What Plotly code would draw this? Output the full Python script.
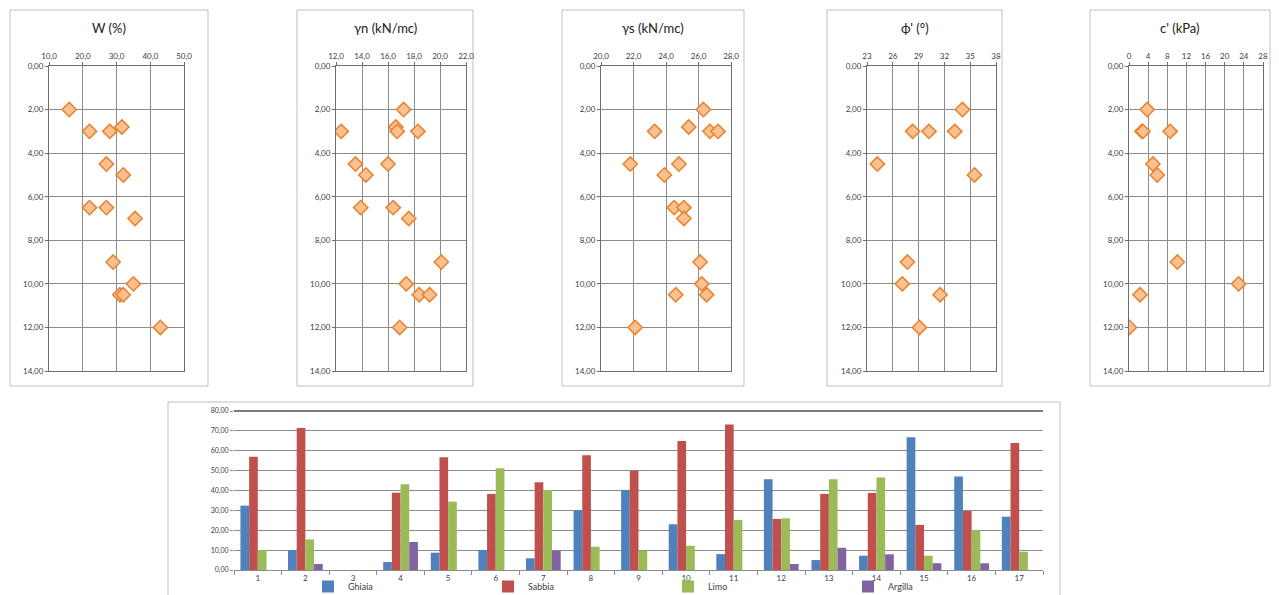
import plotly.graph_objects as go

# The page body adds an 8 px offset, so the figure is sized to fill the rest of the window.
OFF = 8
W_PX, H_PX = 1279 - OFF, 595 - OFF

# ---------------- data ----------------
depth_W = [2, 2.8, 3, 3, 4.5, 5, 6.5, 6.5, 7, 9, 10, 10.5, 10.5, 12]
W = [16, 31.6, 22, 28, 27, 32, 22, 27, 35.5, 29, 35, 31, 32, 43]

depth_gn = [2, 2.8, 3, 3, 3, 4.5, 4.5, 5, 6.5, 6.5, 7, 9, 10, 10.5, 10.5, 12]
gn = [17.2, 16.6, 12.4, 16.7, 18.3, 13.5, 16.0, 14.3, 13.9, 16.4, 17.6, 20.1, 17.4, 18.4, 19.2, 16.9]

depth_gs = [2, 2.8, 3, 3, 3, 4.5, 4.5, 5, 6.5, 6.5, 7, 9, 10, 10.5, 10.5, 12]
gs = [26.3, 25.4, 23.3, 26.7, 27.2, 21.8, 24.8, 23.9, 24.5, 25.1, 25.1, 26.1, 26.2, 24.6, 26.5, 22.1]

depth_phi = [2, 3, 3, 3, 4.5, 5, 9, 10, 10.5, 12]
phi = [34.1, 28.3, 30.2, 33.2, 24.2, 35.5, 27.7, 27.1, 31.5, 29.1]

depth_c = [2, 3, 3, 3, 4.5, 5, 9, 10, 10.5, 12]
c_eff = [3.8, 2.7, 2.9, 8.6, 5.0, 5.9, 10.1, 22.9, 2.3, 0.1]

campioni = [str(i) for i in range(1, 18)]
ghiaia = [32.4, 10.0, 0, 4.0, 8.7, 10.1, 5.9, 30.2, 40.3, 23.0, 8.0, 45.6, 5.0, 7.2, 66.8, 47.1, 26.8]
sabbia = [57.0, 71.5, 0, 38.9, 56.7, 38.3, 44.1, 57.7, 50.0, 64.9, 73.2, 25.7, 38.3, 38.8, 22.7, 29.7, 63.9]
limo = [10.1, 15.4, 0, 43.1, 34.4, 51.2, 40.3, 11.7, 9.7, 12.2, 25.2, 26.0, 45.6, 46.5, 7.2, 20.1, 9.2]
argilla = [0, 3.0, 0, 14.1, 0, 0, 9.7, 0, 0, 0, 0, 3.0, 11.2, 7.9, 3.4, 3.4, 0]

# ---------------- panels ----------------
panels = [
    ("W (%)", W, depth_W, [10, 50], 10, ".1f", (49, 184), (10, 208)),
    ("γn (kN/mc)", gn, depth_gn, [12, 22], 2, ".1f", (336, 466), (297, 473)),
    ("γs (kN/mc)", gs, depth_gs, [20, 28], 2, ".1f", (601, 731), (562, 744)),
    ("ϕ' (°)", phi, depth_phi, [23, 38], 3, "d", (867, 996), (827, 1002)),
    ("c' (kPa)", c_eff, depth_c, [0, 28], 4, "d", (1129, 1263), (1090, 1270)),
]
PLOT_Y0, PLOT_Y1 = 66, 371
FRAME_Y0, FRAME_Y1 = 10, 386

font_family = "Lato, 'Open Sans', sans-serif"
grid_col = "#8C8C8C"

fig = go.Figure()
layout = dict(
    width=W_PX, height=H_PX,
    margin=dict(l=0, r=0, t=0, b=0, autoexpand=False),
    paper_bgcolor="white", plot_bgcolor="white",
    separators=",.",
    font=dict(family=font_family, color="#404040"),
    showlegend=True,
)
shapes = []
annotations = []

def px_x(p):
    return (p - OFF) / W_PX

def px_y(p):
    return 1 - (p - OFF) / H_PX

for i, (title, xs, ys, xr, dt, tf, (px0, px1), (fx0, fx1)) in enumerate(panels):
    n = i + 1
    xa = "x" if n == 1 else f"x{n}"
    ya = "y" if n == 1 else f"y{n}"
    fig.add_trace(go.Scatter(
        x=xs, y=ys, mode="markers", xaxis=xa, yaxis=ya, showlegend=False,
        marker=dict(symbol="diamond", size=11, color="#FAC08F",
                    line=dict(color="#E8822E", width=1.5)),
        hoverinfo="x+y",
    ))
    layout["xaxis" if n == 1 else f"xaxis{n}"] = dict(
        domain=[px_x(px0), px_x(px1)], anchor=ya, side="top",
        range=xr, dtick=dt, tick0=xr[0], tickformat=tf,
        showgrid=True, gridcolor=grid_col, gridwidth=1,
        showline=True, linecolor="#6E6E6E", mirror=True,
        zeroline=False, ticks="outside", ticklen=3, tickcolor="#6E6E6E",
        tickfont=dict(size=8, color="#404040"), automargin=False,
    )
    layout["yaxis" if n == 1 else f"yaxis{n}"] = dict(
        domain=[px_y(PLOT_Y1), px_y(PLOT_Y0)], anchor=xa,
        range=[14, 0], dtick=2, tickformat=".2f",
        showgrid=True, gridcolor=grid_col, gridwidth=1,
        showline=True, linecolor="#6E6E6E", mirror=True,
        zeroline=False, ticks="outside", ticklen=3, tickcolor="#6E6E6E",
        tickfont=dict(size=8, color="#404040"), automargin=False,
    )
    shapes.append(dict(type="rect", xref="paper", yref="paper",
                       x0=px_x(fx0), x1=px_x(fx1), y0=px_y(FRAME_Y1), y1=px_y(FRAME_Y0),
                       line=dict(color="#BFBFBF", width=1), layer="below"))
    annotations.append(dict(text=title, xref="paper", yref="paper",
                            x=px_x((fx0 + fx1) / 2), y=px_y(28), xanchor="center", yanchor="middle",
                            showarrow=False, font=dict(size=13, color="#202020")))

# ---------------- bar chart ----------------
bar_series = [("Ghiaia", ghiaia, "#4F81BD"), ("Sabbia", sabbia, "#C0504D"),
              ("Limo", limo, "#9BBB59"), ("Argilla", argilla, "#8064A2")]
for name, vals, col in bar_series:
    fig.add_trace(go.Bar(x=campioni, y=vals, name=name, marker=dict(color=col, line=dict(width=0)),
                         xaxis="x6", yaxis="y6"))

layout["xaxis6"] = dict(
    domain=[px_x(234), px_x(1043)], anchor="y6", type="category",
    showline=True, linecolor="#8C8C8C", ticks="outside", ticklen=4, tickcolor="#8C8C8C",
    tickson="boundaries", showgrid=False,
    tickfont=dict(size=8, color="#404040"), automargin=False,
)
layout["yaxis6"] = dict(
    domain=[px_y(570), px_y(411)], anchor="x6",
    range=[0, 80], dtick=10, tickformat=".2f",
    showgrid=True, gridcolor="#8C8C8C", gridwidth=1, zeroline=False,
    ticks="outside", ticklen=3, tickcolor="#8C8C8C",
    tickfont=dict(size=7, color="#404040"), automargin=False,
)
shapes.append(dict(type="line", xref="paper", yref="paper",
                   x0=px_x(234), x1=px_x(1043), y0=px_y(411), y1=px_y(411),
                   line=dict(color="#505050", width=1.5)))
shapes.append(dict(type="rect", xref="paper", yref="paper",
                   x0=px_x(168), x1=px_x(1060), y0=px_y(610), y1=px_y(402),
                   line=dict(color="#BFBFBF", width=1), layer="below"))

layout["barmode"] = "group"
layout["bargap"] = 0.27
layout["bargroupgap"] = 0
layout["legend"] = dict(orientation="h", x=px_x(308), y=px_y(572), xanchor="left", yanchor="top",
                        entrywidth=135, entrywidthmode="pixels",
                        font=dict(size=9, color="#404040"), bgcolor="rgba(0,0,0,0)",
                        tracegroupgap=0, itemclick=False)
layout["shapes"] = shapes
layout["annotations"] = annotations

fig.update_layout(**layout)
fig.write_html("out.html")
